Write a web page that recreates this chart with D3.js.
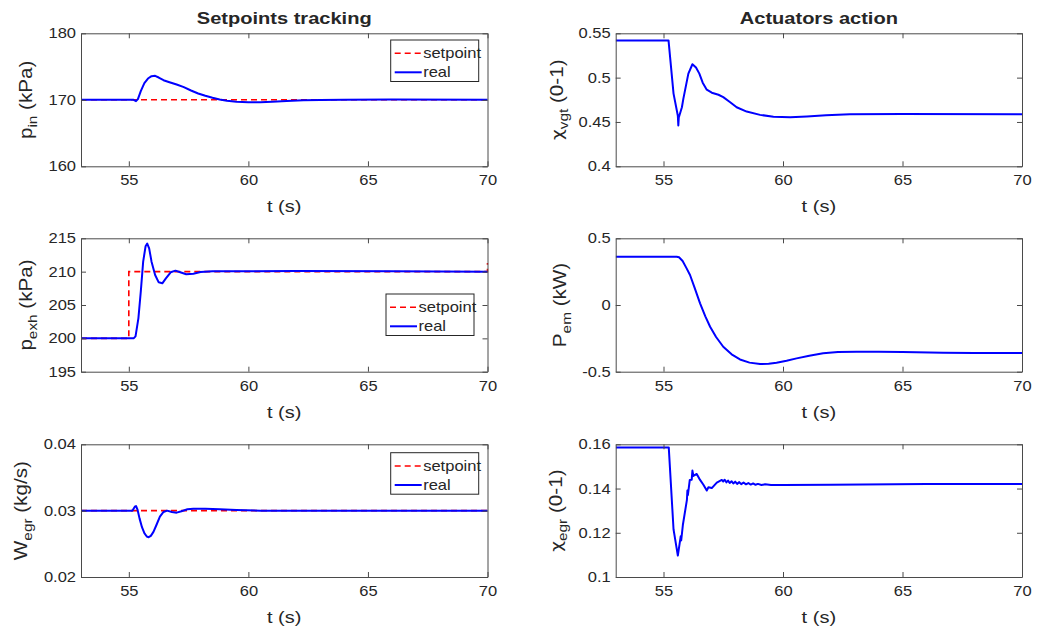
<!DOCTYPE html>
<html>
<head>
<meta charset="utf-8">
<script src="https://cdn.jsdelivr.net/npm/d3@7"></script>
<style>
  body { margin: 0; background: #fff; }
  svg text { font-family: "Liberation Sans", Arial, sans-serif; fill: #262626; }
  .wide { transform-box: fill-box; transform: scaleX(1.18); }
  .wc { transform-origin: center; }
  .wr { transform-origin: right center; }
  .wl { transform-origin: left center; }
</style>
</head>
<body>
<svg id="fig" width="1038" height="632"></svg>
<script>
// time axis
const tDomain = [53, 70];
const tTicks = [55, 60, 65, 70];

// p_in (kPa)
const pinSet = [[53, 170], [70, 170]];
const pinReal = [[53, 170], [55.2, 170], [55.3, 169.8], [55.38, 170.1], [55.5, 171.3], [55.65, 172.5],
  [55.8, 173.2], [55.95, 173.55], [56.1, 173.6], [56.25, 173.35], [56.45, 172.95], [56.7, 172.65],
  [57.0, 172.3], [57.3, 171.9], [57.6, 171.4], [57.9, 170.95], [58.2, 170.6], [58.5, 170.3],
  [58.8, 170.05], [59.1, 169.85], [59.5, 169.72], [60.0, 169.65], [60.5, 169.65], [61.0, 169.72],
  [61.6, 169.82], [62.3, 169.92], [63.0, 169.98], [64, 170.02], [66, 170.03], [70, 170.0]];

// p_exh (kPa)
const pexhSet = [[53, 200], [55, 200], [55, 210], [70, 210], [70, 211.3]];
const pexhReal = [[53, 200], [55.2, 200], [55.28, 200.3], [55.4, 203], [55.5, 207], [55.6, 211.5],
  [55.7, 213.8], [55.77, 214.2], [55.85, 213.5], [55.95, 211.5], [56.1, 209.5], [56.25, 208.4],
  [56.4, 208.25], [56.55, 209], [56.75, 209.9], [56.95, 210.15], [57.15, 209.9], [57.4, 209.6],
  [57.7, 209.7], [58.0, 209.95], [58.5, 210.05], [60, 210.05], [62, 210.1], [66, 210.05], [70, 210]];

// W_egr (kg/s)
const wegrSet = [[53, 0.03], [70, 0.03]];
const wegrReal = [[53, 0.03], [55.15, 0.03], [55.25, 0.0306], [55.3, 0.0307], [55.36, 0.0302],
  [55.45, 0.0288], [55.55, 0.0275], [55.65, 0.0266], [55.75, 0.0261], [55.83, 0.026], [55.92, 0.0262],
  [56.03, 0.0268], [56.15, 0.0278], [56.3, 0.0291], [56.45, 0.0298], [56.6, 0.03], [56.8, 0.0298],
  [57.0, 0.0297], [57.2, 0.0299], [57.45, 0.0302], [57.7, 0.0303], [58.2, 0.0303], [58.8, 0.0302],
  [59.5, 0.0301], [60.5, 0.03], [70, 0.03]];

// chi_vgt (0-1)
const vgtReal = [[53, 0.542], [55.21, 0.542], [55.42, 0.482], [55.6, 0.457], [55.62, 0.446],
  [55.64, 0.455], [55.77, 0.4666], [55.83, 0.4761], [56.04, 0.5045], [56.21, 0.5151], [56.36, 0.5114],
  [56.5, 0.5045], [56.64, 0.4943], [56.81, 0.4864], [57.02, 0.483], [57.3, 0.4807], [57.5, 0.478],
  [57.79, 0.4723], [58.06, 0.4666], [58.48, 0.4617], [59.04, 0.458], [59.6, 0.456], [60.3, 0.4553],
  [61.0, 0.4562], [61.8, 0.4576], [62.8, 0.4587], [65, 0.459], [70, 0.4587]];

// P_em (kW)
const pemReal = [[53, 0.362], [55.55, 0.362], [55.65, 0.358], [55.8, 0.33], [55.95, 0.28], [56.11, 0.225],
  [56.3, 0.13], [56.53, 0.0125], [56.75, -0.085], [56.95, -0.163], [57.2, -0.24], [57.5, -0.313],
  [57.85, -0.37], [58.2, -0.408], [58.6, -0.432], [59.04, -0.443], [59.4, -0.441], [59.73, -0.433],
  [60.15, -0.418], [60.57, -0.40], [61.1, -0.38], [61.68, -0.3625], [62.3, -0.353], [63.08, -0.35],
  [64.0, -0.351], [65, -0.353], [66.7, -0.3575], [68, -0.359], [70, -0.36]];

// chi_egr (0-1)
const egrReal = [[53, 0.1586], [55.22, 0.1586], [55.42, 0.1215], [55.6, 0.1097], [55.72, 0.1184],
  [55.74, 0.1165], [55.81, 0.1235], [55.98, 0.1349], [56.0, 0.1391], [56.02, 0.137], [56.1, 0.1439],
  [56.18, 0.144], [56.21, 0.1481], [56.25, 0.1457], [56.39, 0.1466], [56.53, 0.1439], [56.67, 0.1417],
  [56.81, 0.1391], [56.88, 0.1406], [57.02, 0.1402], [57.23, 0.1427], [57.44, 0.1439], [57.5, 0.1432],
  [57.56, 0.144], [57.63, 0.1428], [57.7, 0.1436], [57.77, 0.1425], [57.85, 0.1433], [57.92, 0.1423],
  [58.0, 0.1431], [58.08, 0.1421], [58.17, 0.1429], [58.25, 0.142], [58.35, 0.1427], [58.45, 0.1419],
  [58.55, 0.1425], [58.65, 0.1418], [58.75, 0.1423], [58.85, 0.1417], [58.95, 0.1421], [59.1, 0.1416],
  [59.25, 0.1419], [59.5, 0.1416], [60, 0.1416], [62, 0.1417], [66, 0.142], [70, 0.1421]];

const titles = ['Setpoints tracking', 'Actuators action'];
const legendLabels = ['setpoint', 'real'];

const colX = [[81, 487.5], [615.7, 1022]];
const rowY = [[33.3, 166.3], [238.3, 371.7], [444.3, 577]];

const panels = [
  { col: 0, row: 0, domain: [160, 180], ticks: [160, 170, 180], set: pinSet, real: pinReal,
    label: ['p', 'in', ' (kPa)'], legend: [390.7, 40] },
  { col: 0, row: 1, domain: [195, 215], ticks: [195, 200, 205, 210, 215], set: pexhSet, real: pexhReal,
    label: ['p', 'exh', ' (kPa)'], legend: [386, 294] },
  { col: 0, row: 2, domain: [0.02, 0.04], ticks: [0.02, 0.03, 0.04], set: wegrSet, real: wegrReal,
    label: ['W', 'egr', ' (kg/s)'], legend: [390.7, 452.7] },
  { col: 1, row: 0, domain: [0.4, 0.55], ticks: [0.4, 0.45, 0.5, 0.55], real: vgtReal,
    label: ['\u03c7', 'vgt', ' (0-1)'] },
  { col: 1, row: 1, domain: [-0.5, 0.5], ticks: [-0.5, 0, 0.5], real: pemReal,
    label: ['P', 'em', ' (kW)'] },
  { col: 1, row: 2, domain: [0.1, 0.16], ticks: [0.1, 0.12, 0.14, 0.16], real: egrReal,
    label: ['\u03c7', 'egr', ' (0-1)'] }
];

const svg = d3.select('#fig');
const axisColor = '#262626';
const stretch = 1.18;

// titles
titles.forEach((t, i) => {
  svg.append('text')
    .attr('class', 'wide wc')
    .attr('x', (colX[i][0] + colX[i][1]) / 2)
    .attr('y', 24)
    .attr('text-anchor', 'middle')
    .style('font-size', '17px')
    .style('font-weight', 'bold')
    .text(t);
});

panels.forEach((p, i) => {
  const xr = colX[p.col], yr = rowY[p.row];
  const x = d3.scaleLinear().domain(tDomain).range(xr);
  const y = d3.scaleLinear().domain(p.domain).range([yr[1], yr[0]]);
  const g = svg.append('g');

  // clip to the axes box
  svg.append('clipPath').attr('id', 'clip' + i)
    .append('rect')
    .attr('x', xr[0]).attr('y', yr[0] - 1)
    .attr('width', xr[1] - xr[0] + 1).attr('height', yr[1] - yr[0] + 2);

  const line = d3.line().x(d => x(d[0])).y(d => y(d[1]));
  const plot = g.append('g').attr('clip-path', `url(#clip${i})`);

  // setpoint under the measured signal
  if (p.set) {
    plot.append('path')
      .datum(p.set)
      .attr('d', line)
      .attr('fill', 'none')
      .attr('stroke', '#ff0000')
      .attr('stroke-width', 1.6)
      .attr('stroke-dasharray', '6,4');
  }

  plot.append('path')
    .datum(p.real)
    .attr('d', line)
    .attr('fill', 'none')
    .attr('stroke', '#0000ff')
    .attr('stroke-width', 2)
    .attr('stroke-linejoin', 'round');

  // axes (box with inward ticks)
  const fmt = d => String(d);
  const styleAxis = sel => {
    sel.attr('color', axisColor)
      .attr('font-family', null)
      .attr('font-size', null);
    sel.selectAll('text').style('font-size', '14px');
    sel.selectAll('path, line').attr('stroke', '#4a4a4a');
  };

  const bottom = g.append('g')
    .attr('transform', `translate(0,${yr[1]})`)
    .call(d3.axisBottom(x).tickValues(tTicks).tickSizeInner(-5).tickSizeOuter(0).tickPadding(9).tickFormat(fmt))
    .call(styleAxis);
  bottom.selectAll('text').attr('class', 'wide wc');

  g.append('g')
    .attr('transform', `translate(0,${yr[0]})`)
    .call(d3.axisTop(x).tickValues(tTicks).tickSizeInner(-5).tickSizeOuter(0).tickFormat(''))
    .call(styleAxis);

  const left = g.append('g')
    .attr('transform', `translate(${xr[0]},0)`)
    .call(d3.axisLeft(y).tickValues(p.ticks).tickSizeInner(-5).tickSizeOuter(0).tickPadding(5).tickFormat(fmt))
    .call(styleAxis);
  left.selectAll('text').attr('class', 'wide wr');

  g.append('g')
    .attr('transform', `translate(${xr[1]},0)`)
    .call(d3.axisRight(y).tickValues(p.ticks).tickSizeInner(-5).tickSizeOuter(0).tickFormat(''))
    .call(styleAxis);

  // x label
  g.append('text')
    .attr('class', 'wide wc')
    .attr('x', (xr[0] + xr[1]) / 2)
    .attr('y', yr[1] + 46)
    .attr('text-anchor', 'middle')
    .style('font-size', '17px')
    .text('t (s)');

  // y label, placed left of the widest tick label
  let maxW = 0;
  left.selectAll('text').each(function () { maxW = Math.max(maxW, this.getBBox().width); });
  const bx = xr[0] - 5 - maxW * stretch - 16;
  const lab = g.append('g')
    .attr('transform', `translate(${bx},${(yr[0] + yr[1]) / 2}) rotate(-90)`)
    .append('text')
    .attr('class', 'wide wc')
    .attr('text-anchor', 'middle')
    .style('font-size', '17.5px');
  const sym = lab.append('tspan').text(p.label[0]);
  if (p.label[0] === '\u03c7') sym.style('font-family', '"DejaVu Sans", sans-serif').style('font-size', '16px');
  lab.append('tspan').attr('dy', 5).style('font-size', '13px').text(p.label[1]);
  lab.append('tspan').attr('dy', -5).text(p.label[2]);

  // legend
  if (p.legend) {
    const [lx, ly] = p.legend;
    const lg = g.append('g').attr('transform', `translate(${lx},${ly})`);
    lg.append('rect')
      .attr('width', 88).attr('height', 41.5)
      .attr('fill', '#fff')
      .attr('stroke', axisColor)
      .attr('stroke-width', 1);
    const styles = [{ c: '#ff0000', dash: '6,4', w: 1.6 }, { c: '#0000ff', dash: null, w: 2 }];
    legendLabels.forEach((name, k) => {
      const cy = 13.3 + k * 19;
      lg.append('line')
        .attr('x1', 4).attr('x2', 31)
        .attr('y1', cy).attr('y2', cy)
        .attr('stroke', styles[k].c)
        .attr('stroke-width', styles[k].w)
        .attr('stroke-dasharray', styles[k].dash);
      lg.append('text')
        .attr('class', 'wide wl')
        .attr('x', 32.5).attr('y', cy)
        .attr('dy', '0.35em')
        .style('font-size', '14px')
        .text(name);
    });
  }
});
</script>
</body>
</html>
